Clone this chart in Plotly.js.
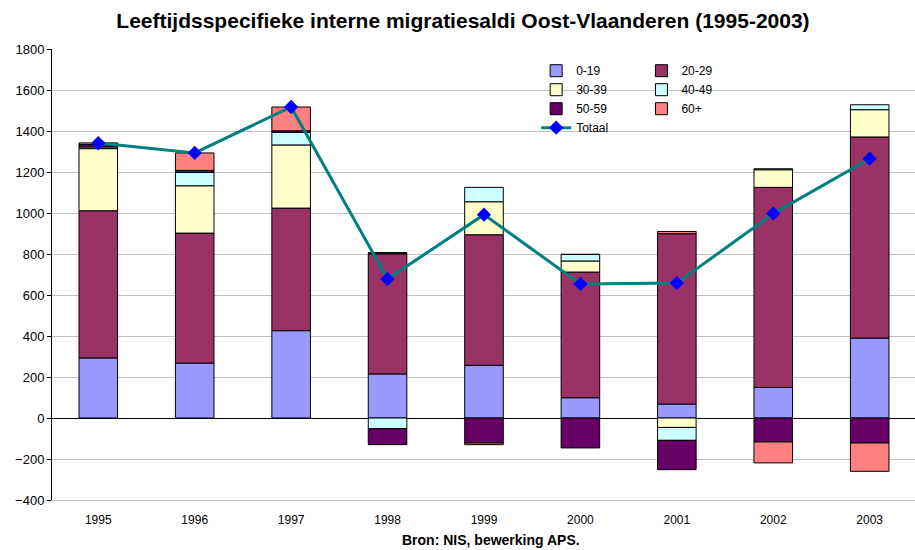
<!DOCTYPE html>
<html>
<head>
<meta charset="utf-8">
<script src="https://cdn.plot.ly/plotly-3.0.1.min.js"></script>
<style>
  body { margin: 0; background: #fff; }
  #chart { width: 915px; height: 550px; }
</style>
</head>
<body>
<div id="chart"></div>
<script>
// *********************************************************************************************
// DATA

const YEARS = ['1995', '1996', '1997', '1998', '1999', '2000', '2001', '2002', '2003'];

const AGE_0_19 = [293, 268, 426, 215, 257, 99, 68, 149, 390];
const AGE_20_29 = [718, 634, 598, 586, 637, 613, 831, 976, 981];
const AGE_30_39 = [303, 231, 308, 5, 161, 54, -46, 86, 133];
const AGE_40_49 = [8, 65, 61, -52, 70, 32, -63, 5, 24];
const AGE_50_59 = [12, 10, 8, -78, -122, -146, -143, -117, -122];
const AGE_60_PLUS = [8, 85, 116, 0, -8, 0, 11, -102, -138];
const TOTAAL = [1341, 1293, 1517, 678, 992, 654, 658, 997, 1265];

const Y_TICKS = [-400, -200, 0, 200, 400, 600, 800, 1000, 1200, 1400, 1600, 1800];

const FONT = 'Liberation Sans, Arial, sans-serif';

// one helper for the six stacked bar series
const barTrace = (name, values, color, legend) => ({
    name: name,
    type: 'bar',
    x: YEARS,
    y: values,
    legend: legend,
    marker: { color: color, line: { color: '#000000', width: 1 } },
    hoverinfo: 'x+y+name'
});

const data = [
    barTrace('0-19', AGE_0_19, '#9999FF', 'legend'),
    barTrace('20-29', AGE_20_29, '#993366', 'legend2'),
    barTrace('30-39', AGE_30_39, '#FFFFCC', 'legend'),
    barTrace('40-49', AGE_40_49, '#CCFFFF', 'legend2'),
    barTrace('50-59', AGE_50_59, '#660066', 'legend'),
    barTrace('60+', AGE_60_PLUS, '#FF8080', 'legend2'),
    {
        name: 'Totaal',
        type: 'scatter',
        mode: 'lines+markers',
        x: YEARS,
        y: TOTAAL,
        legend: 'legend',
        line: { color: '#008080', width: 3 },
        marker: { symbol: 'diamond', size: 11, color: '#0000FF' }
    }
];

// *********************************************************************************************
// LAYOUT

const legendBase = {
    traceorder: 'normal',
    orientation: 'v',
    bgcolor: 'rgba(255,255,255,0)',
    font: { family: FONT, size: 12, color: '#000000' },
    xanchor: 'left',
    yanchor: 'top',
    y: 0.984,
    itemwidth: 30
};

const layout = {
    width: 915,
    height: 550,
    margin: { t: 49, r: 0, b: 50, l: 52 },
    paper_bgcolor: '#ffffff',
    plot_bgcolor: '#ffffff',
    font: { family: FONT, size: 12, color: '#000000' },
    barmode: 'relative',
    bargap: 0.6,
    title: {
        text: 'Leeftijdsspecifieke interne migratiesaldi Oost-Vlaanderen (1995-2003)',
        font: { family: FONT, size: 21, color: '#000000', weight: 'bold' },
        x: 0.506,
        xanchor: 'center',
        y: 0.962,
        yanchor: 'middle'
    },
    xaxis: {
        type: 'category',
        range: [-0.48, 8.47],
        showline: true,
        linecolor: '#c0c0c0',
        linewidth: 1,
        ticks: '',
        ticklabelstandoff: 9,
        showgrid: false,
        tickfont: { family: FONT, size: 12 },
        fixedrange: true
    },
    yaxis: {
        range: [-400, 1800],
        tickvals: Y_TICKS,
        showline: true,
        linecolor: '#000000',
        linewidth: 1,
        ticks: 'outside',
        ticklen: 4,
        tickcolor: '#000000',
        gridcolor: '#c0c0c0',
        gridwidth: 1,
        zeroline: true,
        zerolinecolor: '#000000',
        zerolinewidth: 1,
        tickfont: { family: FONT, size: 13 },
        fixedrange: true
    },
    legend: Object.assign({}, legendBase, { x: 0.561 }),
    legend2: Object.assign({}, legendBase, { x: 0.683 }),
    shapes: [{
        // white block behind the legend, as in the original
        type: 'rect',
        xref: 'paper', yref: 'paper',
        x0: 0.552, x1: 0.798, y0: 0.83, y1: 0.971,
        fillcolor: '#ffffff',
        line: { width: 0 },
        layer: 'below'
    }],
    annotations: [{
        text: 'Bron: NIS, bewerking APS.',
        xref: 'paper', yref: 'paper',
        x: 0.509, y: -0.089,
        xanchor: 'center', yanchor: 'middle',
        showarrow: false,
        font: { family: FONT, size: 14, color: '#000000', weight: 'bold' }
    }]
};

// *********************************************************************************************
// CONFIG

const config = {
    displaylogo: false,
    displayModeBar: false,
    staticPlot: true
};

Plotly.newPlot('chart', data, layout, config);
</script>
</body>
</html>
